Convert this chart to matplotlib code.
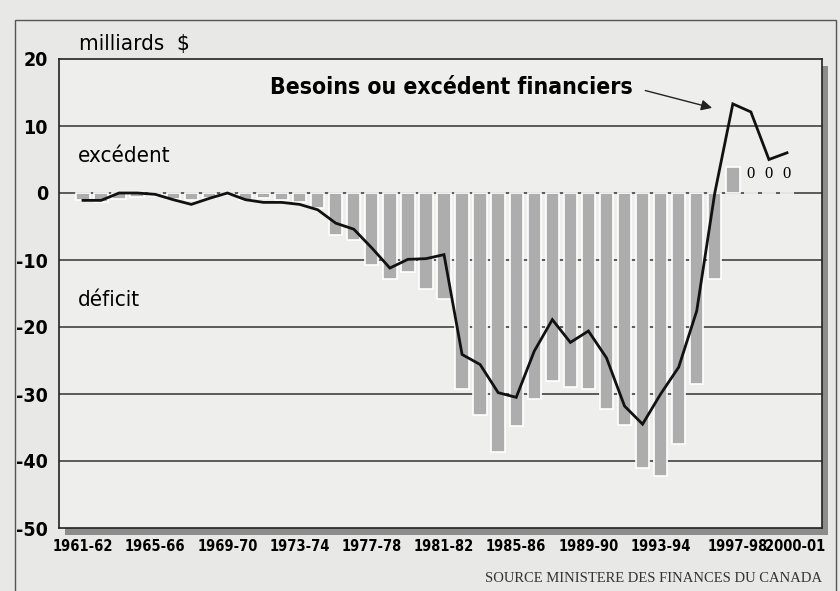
import numpy as np
import matplotlib
matplotlib.use('Agg')
import matplotlib.pyplot as plt
from matplotlib.patches import Rectangle

# fiscal years 1961-62 .. 2000-01
years = ['%d-%02d' % (y, (y + 1) % 100) for y in range(1961, 2001)]
tick_idx = [0, 4, 8, 12, 16, 20, 24, 28, 32, 36, 39]

# budgetary balance (bars), milliards $
deficit = [-1.1, -1.3, -0.9, -0.6, -0.4, -0.9, -1.0, -0.8, -0.3, -1.0,
           -0.8, -1.1, -1.3, -2.3, -6.2, -7.0, -10.7, -12.9, -11.8, -14.4,
           -15.8, -29.3, -33.1, -38.6, -34.8, -30.8, -28.1, -29.0, -29.2, -32.2,
           -34.6, -41.0, -42.2, -37.5, -28.5, -12.8, 3.9, 0.0, 0.0, 0.0]
# financial requirements / surplus (line)
besoins = [-1.1, -1.1, 0.0, 0.0, -0.2, -1.0, -1.7, -0.8, 0.0, -1.0,
           -1.4, -1.4, -1.7, -2.5, -4.5, -5.4, -8.2, -11.2, -9.9, -9.8,
           -9.2, -24.1, -25.6, -29.8, -30.5, -23.6, -18.9, -22.3, -20.6, -24.6,
           -31.8, -34.5, -30.0, -26.0, -17.6, 0.0, 13.3, 12.1, 5.0, 6.0]
zero_idx = [37, 38, 39]

cond = dict(family='DejaVu Sans', fontstretch='condensed')
serif = ['Liberation Serif', 'DejaVu Serif']

W, H = 840, 591
fig = plt.figure(figsize=(8.4, 5.91), dpi=100)
fig.patch.set_facecolor('#e8e8e6')

# outer frame
fig.patches.append(Rectangle((15 / W, -0.05), (836 - 15) / W, 1.05 - 20 / H,
                             transform=fig.transFigure, fill=False,
                             edgecolor='#555555', lw=1.0, zorder=-2))

l, r, t, b = 59, 822, 59, 528
ax = fig.add_axes([l / W, 1 - b / H, (r - l) / W, (b - t) / H])
ax.set_facecolor('#eeeeec')

# drop shadow of the plot frame
fig.patches.append(Rectangle(((l + 6) / W, 1 - (b + 7) / H), (r - l) / W, (b - t) / H,
                             transform=fig.transFigure, facecolor='#8c8c8c',
                             edgecolor='none', zorder=-1))

x = np.arange(len(years))
ax.bar(x, deficit, width=0.74, color='#adadad', edgecolor='white', linewidth=1.2, zorder=2)
ax.plot(x, besoins, color='#111111', lw=2.0, zorder=4, solid_joinstyle='miter')

for yv in range(-40, 20, 10):
    ax.axhline(yv, color='#333333', lw=1.1, zorder=1)

ax.set_xlim(-1.33, 40.94)
ax.set_ylim(-50, 20)
ax.set_yticks(range(-50, 30, 10))
ax.set_yticklabels([str(v) for v in range(-50, 30, 10)], fontweight='bold',
                   fontsize=14, **cond)
# last two labels sit a little right of their bars, as in the original
xt = [float(i) for i in tick_idx]
xt[-2] += 0.25
xt[-1] += 0.45
ax.set_xticks(xt)
ax.set_xticklabels([years[i] for i in tick_idx], fontweight='bold',
                   fontsize=10.5, **cond)
ax.tick_params(length=0)
ax.tick_params(axis='x', pad=8)
ax.tick_params(axis='y', pad=8)
for s in ax.spines.values():
    s.set_color('#222222')
    s.set_linewidth(1.2)

ax.text(-0.2, 22.3, 'milliards  $', fontsize=16, va='center', ha='left', **cond)
ax.text(-0.3, 5.5, 'excédent', fontsize=16, va='center', ha='left', **cond)
ax.text(-0.3, -15.9, 'déficit', fontsize=16, va='center', ha='left', **cond)
ax.text(20.4, 15.8, 'Besoins ou excédent financiers', fontweight='bold',
        fontsize=16.5, ha='center', va='center', zorder=5, **cond)
ax.annotate('', xy=(35.0, 12.6), xytext=(31.0, 15.4),
            arrowprops=dict(arrowstyle='-|>', color='#222222', lw=1.0,
                            mutation_scale=16), zorder=5)
for i in zero_idx:
    ax.text(i, 2.8, '0', family=serif, fontsize=12, ha='center', va='center')

fig.text(r / W, 1 - 578 / H, 'SOURCE MINISTERE DES FINANCES DU CANADA',
         family=serif, fontsize=10.5, ha='right', va='center', color='#333333')

fig.savefig('out.png', dpi=100, facecolor=fig.get_facecolor())
